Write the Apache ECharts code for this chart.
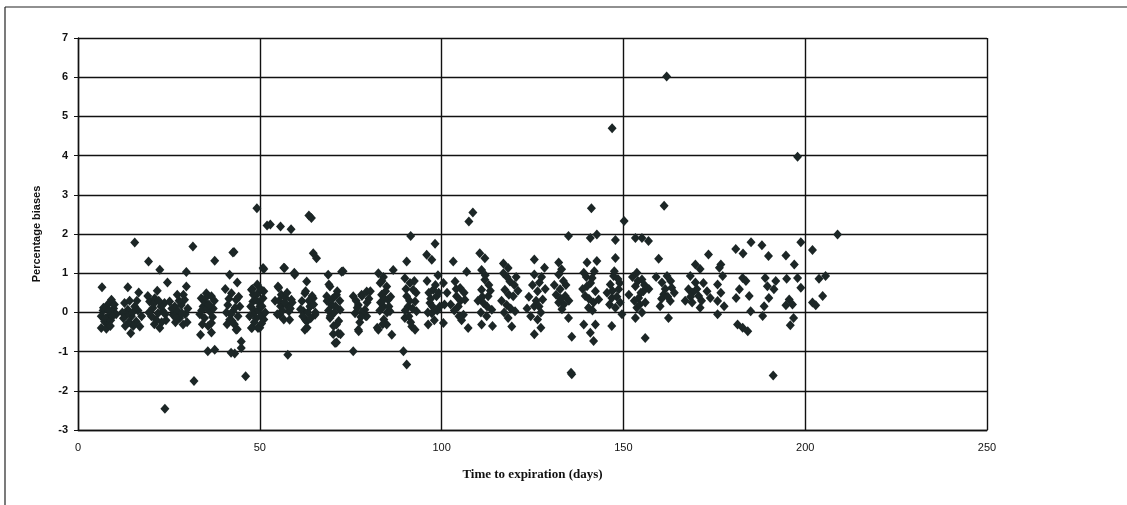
<!DOCTYPE html>
<html>
<head>
<meta charset="utf-8">
<script src="https://cdn.jsdelivr.net/npm/echarts@6/dist/echarts.min.js"></script>
<style>
  html, body { margin: 0; padding: 0; background: #fff; }
  #chart { width: 1127px; height: 505px; }
</style>
</head>
<body>
<div id="chart"></div>
<script>
// [days to expiration, percentage bias]
var pts0_50 = [
  [6.6,0.64],[9.2,0.32],[8.2,0.2],[6.9,0.05],[6.4,-0.1],[7.3,-0.23],[6.4,-0.4],[8.7,-0.06],[8.1,-0.31],[9.8,0.1],[7.5,-0.15],[10.5,-0.05],[9.0,-0.2],
  [7.0,0.12],[8.5,0.05],[9.5,-0.1],[7.8,-0.42],[10.0,0.2],[8.9,-0.35],
  [13.7,0.64],[16.7,0.51],[12.8,0.24],[13.7,0.07],[14.7,-0.1],[16,-0.23],[14.5,-0.53],[17,-0.36],[13.3,-0.06],[15.6,0.15],[15.6,1.78],[12.2,0.0],[16.5,0.05],[14.0,-0.25],[17.5,-0.1],
  [12.5,-0.15],[14.2,0.3],[15.2,-0.35],[16.2,0.3],[13.0,-0.35],[15.0,0.0],
  [19.4,1.30],[22.5,1.09],[24.6,0.76],[19.2,0.42],[21.8,0.55],[19.7,0.28],[20.6,0.11],[22,-0.02],[21.5,-0.19],[22.5,-0.4],[23.8,0.24],[23.4,0.03],[21.1,0.36],[23.9,-2.46],[20.2,-0.1],[24.2,-0.2],[22.8,0.15],
  [19.5,0.0],[21.0,-0.3],[23.0,-0.25],[20.8,0.22],[22.2,0.3],[24.0,-0.05],
  [29.8,1.03],[29.8,0.66],[27.3,0.45],[25.2,0.28],[26.6,0.15],[27.5,0.03],[28,-0.14],[28.9,-0.31],[29.3,0.32],[28.4,0.19],[26.1,-0.06],[31.6,1.68],[31.9,-1.75],[26.8,-0.25],[29.5,-0.05],[30.2,0.1],
  [25.8,0.1],[27.0,-0.15],[28.6,-0.02],[29.0,0.45],[27.8,0.3],[30.0,-0.25],
  [37.6,1.32],[33.9,0.36],[35.3,0.49],[36.7,0.41],[34.4,0.15],[36.2,0.03],[34.8,-0.14],[36.7,-0.27],[33.7,-0.57],[36.7,-0.51],[35.7,-0.99],[37.6,-0.95],[35.0,0.25],[37.2,0.1],[33.5,-0.05],[35.8,-0.35],[37.5,0.3],
  [34.0,0.05],[35.5,0.1],[36.0,0.2],[34.2,-0.3],[37.0,-0.12],[35.2,0.38],
  [42.6,1.53],[41.7,0.96],[43.8,0.76],[40.5,0.60],[42.2,0.49],[43.5,0.32],[41.2,0.19],[42.6,0.03],[44,-0.1],[41.7,-0.19],[43.5,-0.44],[44.9,-0.74],[44.9,-0.91],[43.1,-1.05],[42.1,-1.03],[46.1,-1.63],[42.9,1.54],[40.8,0.0],[43.0,-0.3],[44.5,0.15],[43.8,-0.43],
  [41.5,0.35],[42.0,-0.05],[43.2,0.12],[41.0,-0.3],[44.2,0.4],[42.4,-0.22],
  [47.7,0.58],[49.5,0.49],[48.1,0.28],[48.6,0.03],[47.7,-0.4],[49.5,-0.4],[49.2,2.66],[49.3,0.71],[48.8,0.33],[48.4,0],[47.9,-0.39],[47.5,0.15],[49.0,-0.15],
  [48.2,0.45],[49.8,0.25],[47.2,-0.1],[48.5,-0.25],[49.6,0.05],[48.0,0.6]
];
var pts50_100 = [
  [50.9,0.36],[50,0.15],[50.4,-0.1],[50.9,1.13],[51.1,0.54],[50.6,0.16],[51.1,-0.18],[51.1,1.11],[50,-0.39],[52,2.22],[52.9,2.24],
  [50.2,0.6],[51.5,0.0],[50.5,-0.28],
  [55.7,2.19],[58.6,2.12],[56.8,1.13],[59.6,0.96],[55,0.66],[55.9,0.45],[57.3,0.19],[55.5,-0.06],[58.2,-0.19],[58.7,0.32],[57.7,-1.08],[56.6,1.14],[59.5,1.01],[55.2,0.63],[57.1,0.37],[55.7,0.16],[58,0.03],[54.8,-0.05],[56.6,-0.18],[58.9,0.25],[54.2,0.3],
  [56.2,0.05],[57.5,0.5],[55.3,0.3],[58.4,0.1],[56.8,0.25],
  [63.5,2.47],[64.2,2.41],[64.7,1.51],[65.6,1.38],[62.9,0.79],[62.4,0.49],[64.7,0.36],[63.8,0.15],[62,0.03],[65.2,-0.06],[62.9,-0.23],[62.4,-0.44],[62.6,0.54],[64.4,0.42],[61.6,0.29],[63.9,0.16],[65.3,0],[61.2,0.08],[62.5,-0.18],[63,-0.39],
  [63.2,0.0],[64.0,-0.15],[61.8,-0.1],[63.5,0.3],[64.8,0.2],
  [68.8,0.96],[72.5,1.04],[69.3,0.66],[68.4,0.41],[71.1,0.45],[69.8,0.19],[72.1,0.07],[69.3,-0.14],[71.1,-0.31],[71.6,-0.53],[70.7,-0.78],[72.9,1.05],[69,0.71],[71.3,0.54],[68.5,0.29],[70.8,0.16],[69.4,-0.09],[71.7,-0.22],[70.3,-0.35],[72.2,-0.56],[71.1,-0.77],
  [70.0,0.35],[70.5,0.0],[68.9,0.05],[72.0,0.3],[70.2,-0.55],
  [75.7,-0.99],[77.1,-0.44],[77.2,-0.48],[75.7,0.41],[78,0.45],[79.4,0.53],[77.1,0.19],[78.9,0.07],[76.2,-0.02],[79.4,-0.1],[78.1,0.42],[79.5,0.25],[76.8,0.12],[79.1,-0.09],[80.4,0.54],[77.5,-0.25],
  [76.5,0.3],[78.0,0.0],[80.0,0.35],[77.8,-0.12],
  [82.6,1.0],[86.7,1.08],[83.1,0.75],[84.9,0.66],[83.5,0.45],[85.3,0.32],[84,0.15],[85.8,0.03],[82.6,-0.44],[84.9,-0.31],[86.3,-0.57],[83.6,0.8],[84.6,0.54],[83.2,0.25],[85,0],[84.1,-0.18],[82.3,-0.39],[86.0,0.4],
  [83.0,0.05],[84.3,0.35],[85.5,0.15],[83.8,-0.3],[84.0,0.9],
  [90.4,1.30],[91.5,1.95],[89.9,0.87],[91.3,0.75],[92.2,0.58],[90.4,0.41],[92.7,0.28],[90.8,0.15],[93.1,0.03],[89.9,-0.14],[91.8,-0.36],[89.5,-0.99],[90.4,-1.33],[92.7,-0.44],[91.0,-0.1],[93.0,0.5],
  [91.2,0.3],[90.2,0.6],[92.0,0.1],[90.0,0.05],[92.5,0.8],[91.5,-0.25],
  [98.2,1.75],[95.9,1.47],[97.3,1.34],[97.7,0.58],[98.6,0.41],[96.8,0.24],[99.5,0.15],[97.3,-0.02],[96.3,-0.31],[96.0,0.8],[98.0,-0.2],[99.0,0.95],[97.0,0.35],
  [98.3,0.7],[96.5,0.5],[98.8,0.05],[97.5,0.15],[99.2,0.5],[96.2,0.0]
];
var pts100_150 = [
  [100.5,-0.27],[100.5,0.75],[103.2,1.30],[103.7,0.79],[105.1,0.62],[104.1,0.41],[106.4,0.32],[104.6,0.15],[106,-0.06],[107.3,-0.4],[106.9,1.04],[107.5,2.32],[108.6,2.55],[102.5,0.2],[105.5,-0.2],[101.5,0.5],
  [104.0,0.6],[105.2,0.3],[103.5,0.05],[106.2,0.5],[104.8,-0.1],[100.8,0.2],
  [110.5,1.51],[111.9,1.38],[111,1.08],[111.9,0.83],[111,0.58],[112.8,0.41],[111.5,0.24],[113.8,0.07],[111,-0.31],[112.4,-0.1],[110.0,0.3],[113.0,0.7],[114.0,-0.35],
  [112.0,0.95],[110.8,0.0],[112.5,0.15],[113.4,0.55],[111.2,0.4],
  [117,1.25],[118.3,1.13],[117,1.0],[118.8,0.79],[117.4,0.58],[119.7,0.41],[117.9,0.19],[120.2,0.03],[118.3,-0.14],[119.3,-0.36],[121.0,0.55],[116.5,0.3],[120.5,0.9],
  [118.5,0.45],[119.0,0.1],[117.2,0.0],[120.0,0.7],[118.0,0.9],
  [125.5,1.35],[128.3,1.14],[125.5,0.97],[126.9,0.76],[126.4,0.54],[127.8,0.33],[125.5,0.16],[127.3,0],[126.4,-0.18],[125.5,-0.56],[127.3,-0.39],[124.0,0.4],[128.5,0.6],[123.5,0.1],
  [125.0,0.7],[126.0,0.3],[127.5,0.9],[124.5,-0.1],[126.8,0.15],
  [132.2,1.27],[132.2,0.97],[133.5,0.8],[132.6,0.59],[134,0.42],[132.2,0.25],[133.1,0.08],[134.9,-0.14],[134.9,1.95],[135.8,-0.62],[135.8,-1.58],[135.6,-1.54],[131.0,0.7],[135.0,0.3],
  [133.0,1.1],[131.5,0.45],[134.2,0.7],[133.6,0.2],[132.8,0.35],
  [140,1.27],[142.7,1.31],[140.9,1.90],[142.7,1.99],[139.1,1.01],[141.4,0.88],[140,0.67],[142.3,0.54],[139.5,0.42],[141.8,0.25],[140.4,0.12],[143.2,0.33],[141.8,-0.73],[140.9,-0.52],[139.1,-0.31],[142.3,-0.31],[141.2,2.66],
  [140.5,0.35],[141.0,0.75],[139.8,0.9],[142.0,1.05],[138.8,0.6],[141.5,0.05],
  [147.8,1.85],[147.8,1.39],[146.8,-0.35],[147.3,0.93],[146.4,0.71],[148.7,0.59],[146.8,0.37],[149.1,0.25],[147.8,0.12],[149.6,-0.05],[146.9,4.70],[145.5,0.5],[148.5,0.85],
  [147.0,0.55],[148.2,0.4],[146.2,0.2],[149.0,0.75],[147.5,1.05]
];
var pts150_210 = [
  [150.2,2.33],[153.3,1.90],[155.1,1.90],[156.9,1.82],[159.7,1.37],[153.7,1.01],[155.1,0.84],[153.3,0.67],[155.5,0.54],[154.2,0.37],[156,0.25],[153.7,0.12],[155.1,0],[156,-0.65],[153.3,-0.14],[151.5,0.45],[157.0,0.6],
  [154.0,0.8],[154.8,0.5],[153.0,0.3],[155.8,0.7],[154.5,0.2],[152.5,0.9],
  [161.2,2.72],[161.9,6.02],[162,0.93],[160.6,0.76],[163.3,0.63],[161.1,0.46],[162.9,0.29],[160.1,0.16],[162.4,-0.14],[164.0,0.5],[159.0,0.9],
  [161.5,0.6],[162.2,0.4],[160.5,0.35],[163.0,0.8],
  [169.8,1.22],[171.1,1.11],[173.4,1.48],[168.4,0.93],[169.8,0.76],[167.9,0.59],[170.7,0.42],[168.9,0.25],[171.1,0.12],[173,0.54],[173.9,0.37],[167.0,0.3],[172.0,0.75],
  [169.0,0.5],[170.2,0.6],[168.5,0.4],[171.5,0.3],
  [176.4,1.14],[176.8,1.22],[177.3,0.93],[175.9,0.71],[176.8,0.5],[175.9,0.29],[177.7,0.16],[175.9,-0.05],
  [180.9,1.62],[182.9,1.5],[185.1,1.79],[188.1,1.71],[189.9,1.44],[194.7,1.45],[197,1.22],[198.8,1.79],[202,1.59],[208.9,1.99],
  [182.8,0.88],[183.7,0.8],[189,0.88],[191.9,0.8],[194.9,0.86],[197.9,0.88],[198.8,0.63],[203.8,0.86],[205.6,0.93],[204.8,0.42],[202,0.25],[202.9,0.18],
  [181.9,0.59],[184.6,0.42],[181,0.37],[189.6,0.67],[191.4,0.59],[190,0.37],[195.6,0.33],[196.5,0.2],[194.7,0.18],[188.7,0.16],[185,0.03],[188.3,-0.09],[196.8,-0.14],[195.9,-0.33],[181.4,-0.31],[182.8,-0.39],[184.2,-0.48],[191.2,-1.61],[197.9,3.97]
];

var xTicks = [0, 50, 100, 150, 200, 250];
var yTicks = [-3, -2, -1, 0, 1, 2, 3, 4, 5, 6, 7];

var chart = echarts.init(document.getElementById('chart'), null, {renderer: 'canvas'});

var dotColor = '#1c2626';
var gridLine = {show: true, lineStyle: {color: '#111', width: 1.4}};

var option = {
    backgroundColor: '#fff',
    animation: false,
    grid: {left: 78, right: 140, top: 38, bottom: 75, show: false},
    xAxis: {
        type: 'value',
        min: xTicks[0], max: xTicks[xTicks.length - 1], interval: 50,
        name: 'Time to expiration (days)',
        nameLocation: 'middle', nameGap: 38,
        nameTextStyle: {fontFamily: 'Liberation Serif', fontWeight: 'bold', fontSize: 13, color: '#111'},
        axisLine: {show: true, onZero: false, lineStyle: {color: '#111', width: 1.4}},
        axisTick: {show: false},
        splitLine: gridLine,
        axisLabel: {fontFamily: 'Liberation Sans Narrow, Liberation Sans', fontSize: 11, color: '#111', margin: 12}
    },
    yAxis: {
        type: 'value',
        min: yTicks[0], max: yTicks[yTicks.length - 1], interval: 1,
        name: 'Percentage biases',
        nameLocation: 'middle', nameGap: 36, nameRotate: 90,
        nameTextStyle: {fontFamily: 'Liberation Sans', fontWeight: 'bold', fontSize: 11, color: '#111'},
        axisLine: {show: true, lineStyle: {color: '#111', width: 1.4}},
        axisTick: {show: true, length: 4, lineStyle: {color: '#111'}},
        splitLine: gridLine,
        axisLabel: {fontFamily: 'Liberation Sans', fontWeight: 'bold', fontSize: 11, color: '#111', margin: 10}
    },
    graphic: [
        {type: 'line', shape: {x1: 5, y1: 7, x2: 5, y2: 505}, style: {stroke: '#222', lineWidth: 1.2}},
        {type: 'line', shape: {x1: 5, y1: 7, x2: 1127, y2: 7}, style: {stroke: '#222', lineWidth: 1.2}}
    ],
    series: [pts0_50, pts50_100, pts100_150, pts150_210].map(function (d) {
        return {
            type: 'scatter',
            data: d,
            symbol: 'diamond',
            symbolSize: [9, 10],
            itemStyle: {color: dotColor, opacity: 1}
        };
    })
};

chart.setOption(option);
</script>
</body>
</html>
